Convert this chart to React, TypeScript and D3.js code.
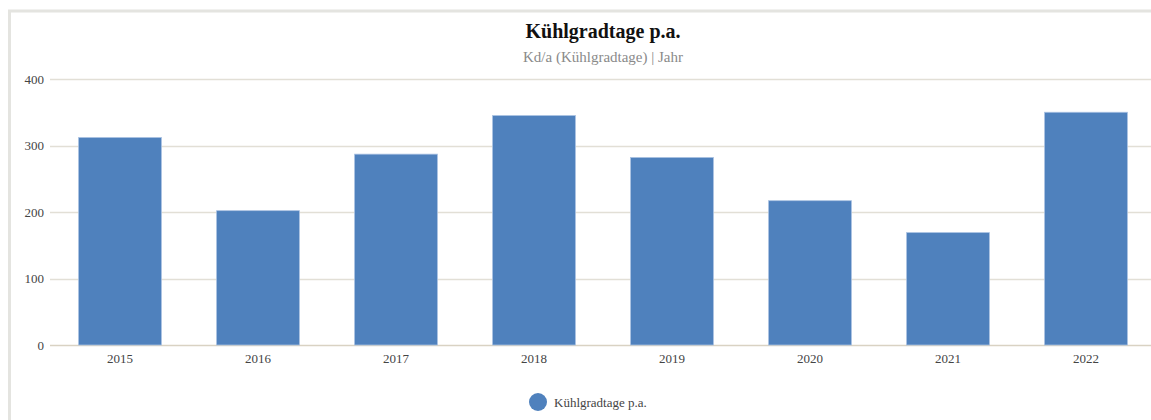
import React from "react";
import * as d3 from "d3";

const categories = ["2015", "2016", "2017", "2018", "2019", "2020", "2021", "2022"];
const values = [312, 202, 287, 345, 282, 217, 169, 350];
const yTicks = [0, 100, 200, 300, 400];
const title = "Kühlgradtage p.a.";
const subtitle = "Kd/a (Kühlgradtage) | Jahr";
const seriesName = "Kühlgradtage p.a.";

const W = 1151;
const H = 420;
const FONT = "'Liberation Serif', 'Times New Roman', serif";

export default function App() {
  const x = d3.scaleBand<string>().domain(categories).range([51, 1155]).paddingInner(0.4).paddingOuter(0.2);
  const y = d3.scaleLinear().domain([0, 400]).range([345, 79]);

  return (
    <svg width={W} height={H} style={{ position: "absolute", left: 0, top: 0, display: "block" }} fontFamily={FONT}>
      <rect x={0} y={0} width={W} height={H} fill="#fff" />
      <rect x={9.5} y={11} width={W + 20} height={H + 20} fill="#fff" stroke="#e4e4e0" strokeWidth={3} />
      <text x={603} y={38} textAnchor="middle" fontSize={20} fontWeight="bold" fill="#111">{title}</text>
      <text x={603} y={62} textAnchor="middle" fontSize={15} fill="#8a8a8a">{subtitle}</text>
      {yTicks.map((t) => (
        <g key={t}>
          <line x1={50} x2={W} y1={Math.round(y(t)) + 0.5} y2={Math.round(y(t)) + 0.5} stroke={t === 0 ? "#d9d2c3" : "#e2dfd6"} strokeWidth={1.3} />
          <text x={44} y={y(t) + 4.5} textAnchor="end" fontSize={13} fill="#444">{t}</text>
        </g>
      ))}
      {categories.map((c, i) => (
        <rect key={c} x={x(c)!} y={y(values[i])} width={x.bandwidth()} height={y(0) - y(values[i])} fill="#4f81bd" stroke="#a9c1e2" strokeWidth={0.8} />
      ))}
      {categories.map((c) => (
        <text key={c} x={x(c)! + x.bandwidth() / 2} y={363} textAnchor="middle" fontSize={13} fill="#444">{c}</text>
      ))}
      <circle cx={538} cy={402} r={9} fill="#4f81bd" />
      <text x={554} y={406.5} fontSize={13} fill="#444">{seriesName}</text>
    </svg>
  );
}
